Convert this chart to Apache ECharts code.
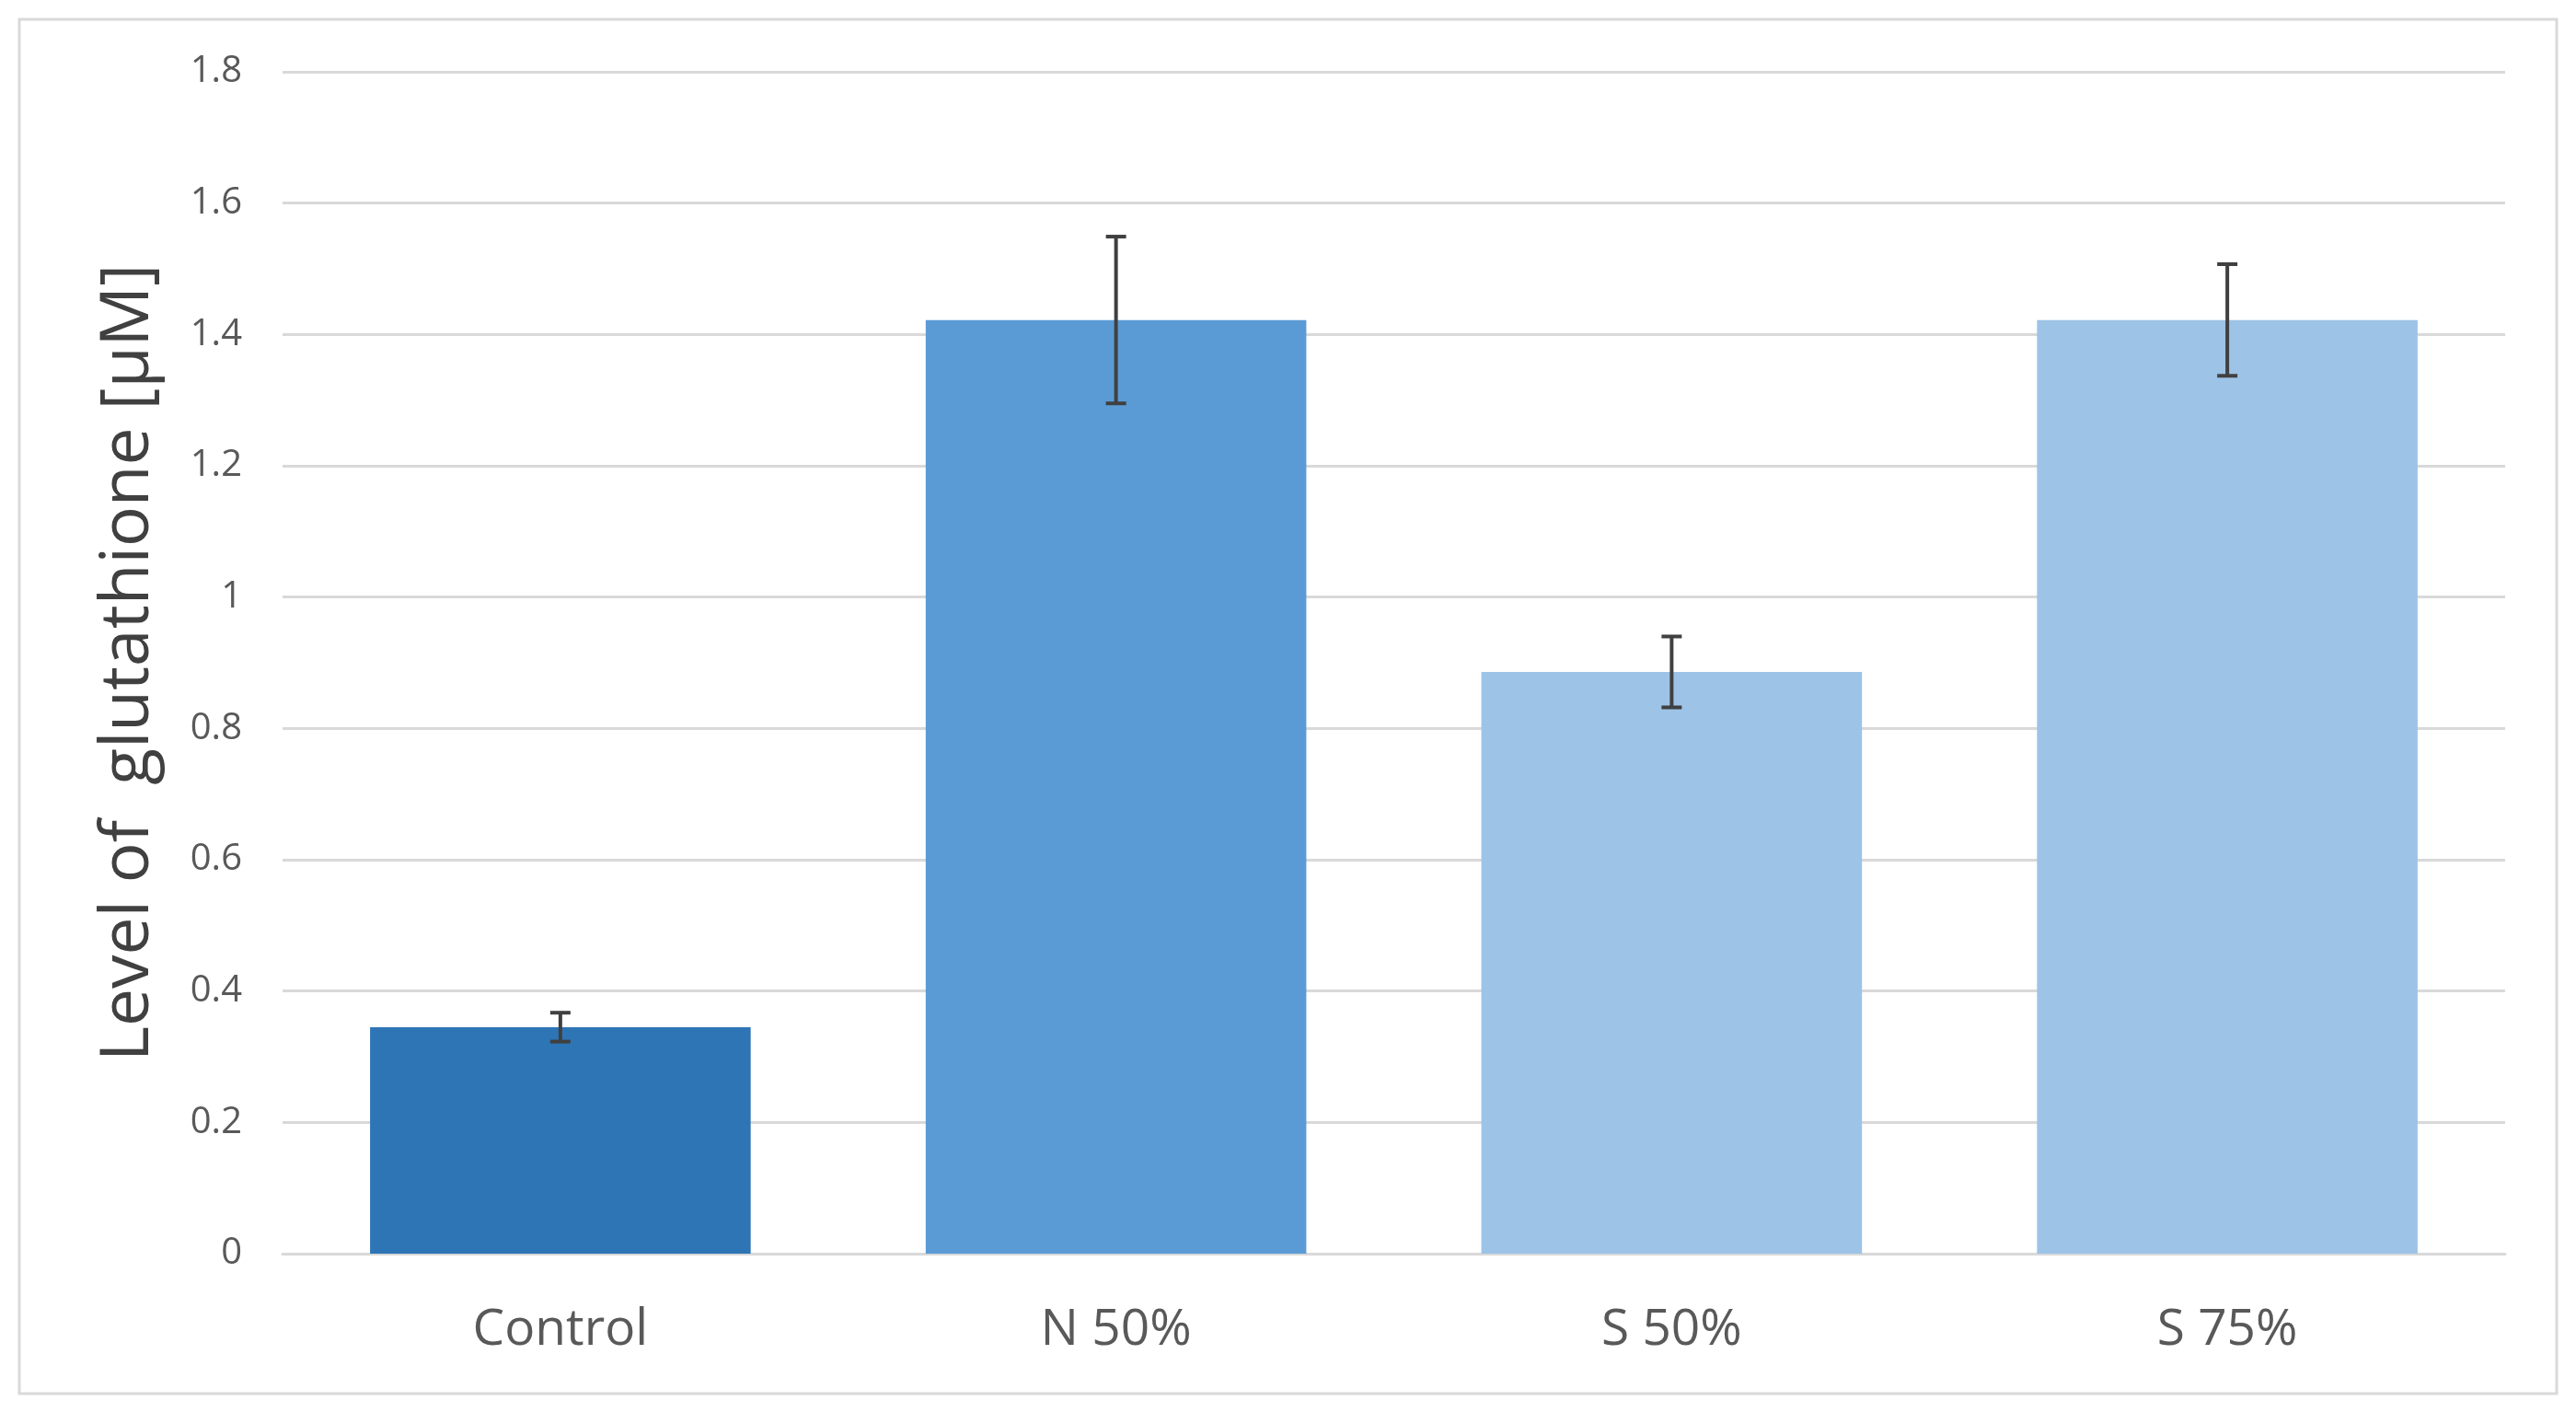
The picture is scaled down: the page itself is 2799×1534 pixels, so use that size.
<!DOCTYPE html>
<html>
<head>
<meta charset="utf-8">
<script src="https://cdn.jsdelivr.net/npm/echarts@6/dist/echarts.min.js"></script>
<style>
  html, body { margin: 0; padding: 0; background: #fff; }
  #chart { width: 2799px; height: 1534px; }
</style>
</head>
<body>
<div id="chart"></div>
<script>
var categories = ['Control', 'N 50%', 'S 50%', 'S 75%']
var means = [0.345, 1.422, 0.886, 1.422]
var errors = [0.022, 0.127, 0.054, 0.085]
var barColors = ['#2E75B6', '#5B9BD5', '#9DC3E6', '#9DC3E6']
var yTicks = [0, 0.2, 0.4, 0.6, 0.8, 1, 1.2, 1.4, 1.6, 1.8]

var myChart = echarts.init(document.getElementById('chart'))

var barData = means.map(function (v, i) {
  return { value: v, itemStyle: { color: barColors[i] } }
})
var errData = means.map(function (v, i) {
  return [i, v - errors[i], v + errors[i]]
})

var option = {
  backgroundColor: '#fff',
  animation: false,
  graphic: [{
    type: 'rect',
    shape: { x: 21, y: 21, width: 2757, height: 1493 },
    style: { fill: 'none', stroke: '#D9D9D9', lineWidth: 3 },
    z: -1
  }],
  grid: { left: 307, right: 77, top: 78, bottom: 172 },
  xAxis: {
    type: 'category',
    data: categories,
    axisLine: { lineStyle: { color: '#D9D9D9', width: 3 } },
    axisTick: { show: false },
    axisLabel: { color: '#595959', fontSize: 55, fontFamily: 'Open Sans', margin: 56 }
  },
  yAxis: {
    type: 'value',
    min: 0,
    max: 1.8,
    interval: 0.2,
    name: 'Level of  glutathione [µM]',
    nameLocation: 'middle',
    nameGap: 130,
    nameTextStyle: { color: '#404040', fontSize: 73, fontFamily: 'Open Sans' },
    axisLine: { show: false },
    axisTick: { show: false },
    splitLine: { lineStyle: { color: '#D9D9D9', width: 3 } },
    axisLabel: {
      color: '#595959', fontSize: 40, fontFamily: 'Open Sans', margin: 44,
      formatter: function (v) {
        var t = yTicks.find(function (x) { return Math.abs(x - v) < 1e-9 })
        return t === undefined ? '' : String(t)
      }
    }
  },
  series: [
    {
      type: 'bar',
      data: barData,
      barWidth: '68.5%'
    },
    {
      type: 'custom',
      data: errData,
      z: 10,
      renderItem: function (params, api) {
        var x = api.value(0)
        var lo = api.coord([x, api.value(1)])
        var hi = api.coord([x, api.value(2)])
        var cap = 11
        var style = { stroke: '#404040', lineWidth: 4 }
        return {
          type: 'group',
          children: [
            { type: 'line', shape: { x1: hi[0], y1: hi[1], x2: lo[0], y2: lo[1] }, style: style },
            { type: 'line', shape: { x1: hi[0] - cap, y1: hi[1], x2: hi[0] + cap, y2: hi[1] }, style: style },
            { type: 'line', shape: { x1: lo[0] - cap, y1: lo[1], x2: lo[0] + cap, y2: lo[1] }, style: style }
          ]
        }
      }
    }
  ]
}

option && myChart.setOption(option)
</script>
</body>
</html>
